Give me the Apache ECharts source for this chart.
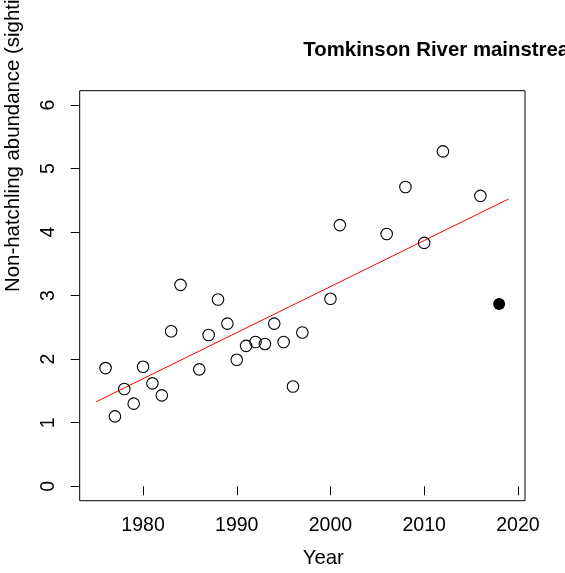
<!DOCTYPE html>
<html>
<head>
<meta charset="utf-8">
<script src="https://cdn.jsdelivr.net/npm/echarts@6/dist/echarts.min.js"></script>
<style>
  html, body { margin: 0; padding: 0; background: #fff; }
  #chart { width: 565px; height: 573px; }
</style>
</head>
<body>
<div id="chart"></div>
<script>
// Survey years and non-hatchling abundance (open circles)
const years = [1976, 1977, 1978, 1979, 1980, 1981, 1982, 1983, 1984, 1986, 1987, 1988,
               1989, 1990, 1991, 1992, 1993, 1994, 1995, 1996, 1997, 2000, 2001, 2006,
               2008, 2010, 2012, 2016];
const abundance = [1.86, 1.10, 1.53, 1.30, 1.88, 1.62, 1.43, 2.44, 3.17, 1.84, 2.38, 2.94,
                   2.56, 1.99, 2.21, 2.27, 2.24, 2.56, 2.27, 1.57, 2.42, 2.95, 4.11, 3.97,
                   4.71, 3.83, 5.27, 4.57];

// Most recent survey (filled circle)
const latestYear = [2018];
const latestAbundance = [2.87];

// Fitted linear trend, end points
const trendYears = [1975, 2019];
const trendValues = [1.33, 4.52];

// Axis tick labels
const yearTicks = [1980, 1990, 2000, 2010, 2020];
const abundanceTicks = [0, 1, 2, 3, 4, 5, 6];

const FONT = '"Liberation Sans", Arial, Helvetica, sans-serif';

const zip = (a, b) => a.map((v, i) => [v, b[i]]);

const chart = echarts.init(document.getElementById('chart'), null, { renderer: 'canvas' });

chart.setOption({
  animation: false,
  backgroundColor: '#ffffff',
  grid: {
    left: 79.7,
    top: 90.7,
    width: 445.3,
    height: 410,
    show: true,
    borderColor: '#000',
    borderWidth: 1,
    backgroundColor: 'transparent',
    containLabel: false,
    outerBoundsMode: 'none'
  },
  xAxis: {
    type: 'value',
    min: 1973.24,
    max: 2020.76,
    axisLine: { show: false },
    splitLine: { show: false },
    axisTick: {
      show: true,
      customValues: yearTicks,
      length: 9,
      lineStyle: { color: '#000', width: 1 }
    },
    axisLabel: {
      customValues: yearTicks,
      formatter: (v) => String(v),
      color: '#000',
      fontFamily: FONT,
      fontSize: 19.5,
      margin: 15
    }
  },
  yAxis: {
    type: 'value',
    min: -0.227,
    max: 6.225,
    axisLine: { show: false },
    splitLine: { show: false },
    axisTick: {
      show: true,
      customValues: abundanceTicks,
      length: 9,
      lineStyle: { color: '#000', width: 1 }
    },
    axisLabel: {
      customValues: abundanceTicks,
      formatter: (v) => String(v),
      rotate: 90,
      color: '#000',
      fontFamily: FONT,
      fontSize: 19.5,
      margin: 21
    }
  },
  graphic: [
    {
      type: 'text',
      x: 303.3,
      y: 50.3,
      silent: true,
      style: {
        text: 'Tomkinson River mainstream',
        fill: '#000',
        font: 'bold 20.4px ' + FONT,
        align: 'left',
        verticalAlign: 'middle'
      }
    },
    {
      type: 'text',
      x: 323.3,
      y: 558,
      silent: true,
      style: {
        text: 'Year',
        fill: '#000',
        font: '20.4px ' + FONT,
        align: 'center',
        verticalAlign: 'middle'
      }
    },
    {
      type: 'text',
      x: 13.5,
      y: 292,
      rotation: Math.PI / 2,
      silent: true,
      style: {
        text: 'Non-hatchling abundance (sightings/km)',
        fill: '#000',
        font: '20.4px ' + FONT,
        align: 'left',
        verticalAlign: 'middle'
      }
    }
  ],
  series: [
    {
      type: 'line',
      data: zip(trendYears, trendValues),
      symbol: 'none',
      silent: true,
      lineStyle: { color: '#ff0000', width: 1 },
      z: 1
    },
    {
      type: 'scatter',
      data: zip(years, abundance),
      symbol: 'circle',
      symbolSize: 11.5,
      silent: true,
      itemStyle: { color: 'rgba(0,0,0,0)', borderColor: '#000', borderWidth: 1.1, opacity: 1 },
      z: 2
    },
    {
      type: 'scatter',
      data: zip(latestYear, latestAbundance),
      symbol: 'circle',
      symbolSize: 12,
      silent: true,
      itemStyle: { color: '#000', opacity: 1 },
      z: 3
    }
  ]
});
</script>
</body>
</html>
